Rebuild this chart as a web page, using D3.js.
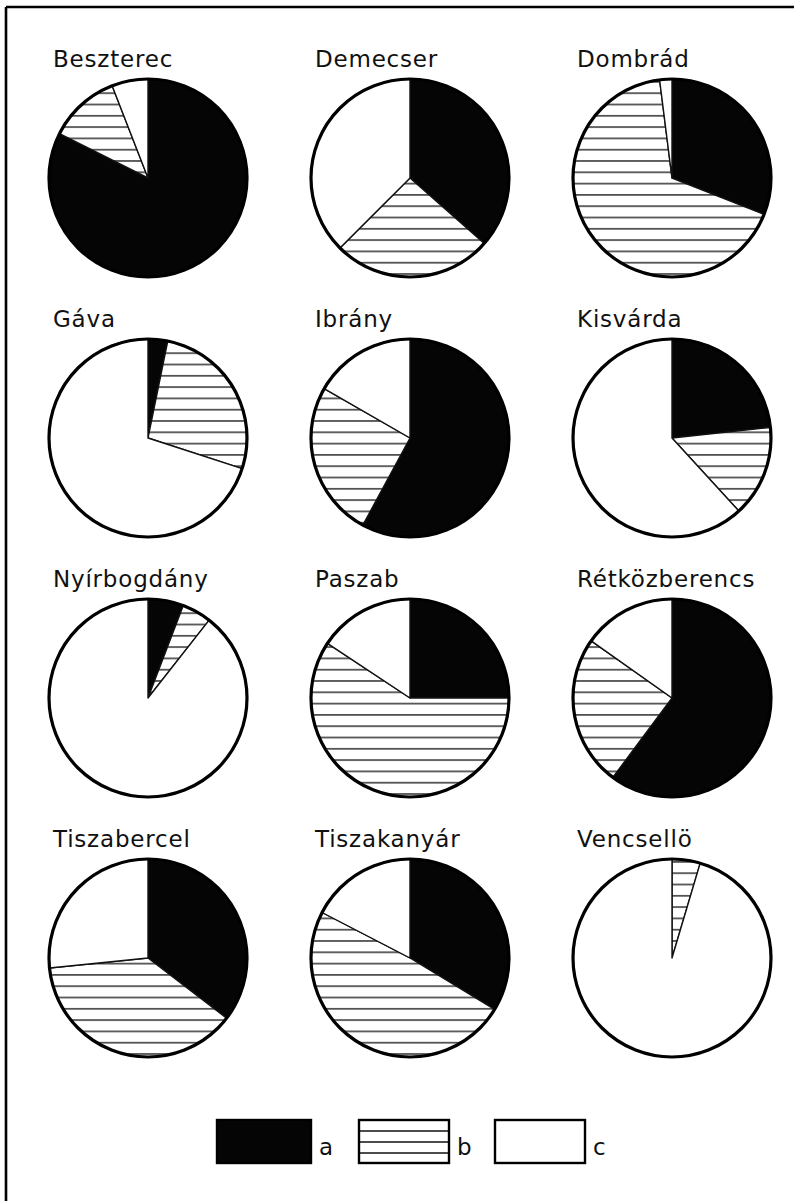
<!DOCTYPE html>
<html>
<head>
<meta charset="utf-8">
<script src="https://cdn.jsdelivr.net/npm/d3@7"></script>
<style>
  html, body { margin: 0; padding: 0; background: #fff; }
  svg { display: block; }
  text { font-family: "DejaVu Sans", sans-serif; fill: #111; }
</style>
</head>
<body>
<svg id="chart" width="794" height="1201"></svg>
<script>
// ---- data ----
const places = ["Beszterec", "Demecser", "Dombrád",
                "Gáva", "Ibrány", "Kisvárda",
                "Nyírbogdány", "Paszab", "Rétközberencs",
                "Tiszabercel", "Tiszakanyár", "Vencsellö"];
const seriesKeys = ["a", "b", "c"];
const valuesA = [82.4, 36.5, 31.0, 3.2, 57.9, 23.3, 5.8, 25.0, 60.2, 35.4, 33.7, 0.0];
const valuesB = [11.7, 26.0, 67.0, 26.8, 25.4, 14.9, 4.8, 59.3, 24.6, 38.0, 48.9, 4.6];
const valuesC = [5.9, 37.5, 2.0, 70.0, 16.7, 61.8, 89.4, 15.7, 15.2, 26.6, 17.4, 95.4];

// ---- layout ----
const svg = d3.select("#chart");
const W = 794, H = 1201;
const R = 99;
const colX = d3.scalePoint().domain([0, 1, 2]).range([148, 672]);
const rowY = d3.scaleLinear().domain([0, 3]).range([178, 958]);

const defs = svg.append("defs");
const pat = defs.append("pattern")
  .attr("id", "hatch")
  .attr("patternUnits", "userSpaceOnUse")
  .attr("width", 10).attr("height", 11.3);
pat.append("rect").attr("width", 10).attr("height", 11.3).attr("fill", "#fff");
pat.append("line").attr("x1", 0).attr("x2", 10).attr("y1", 5.6).attr("y2", 5.6)
  .attr("stroke", "#111").attr("stroke-width", 1.3);

const fills = d3.scaleOrdinal().domain(seriesKeys).range(["#050505", "url(#hatch)", "#fff"]);

// frame (top and left)
svg.append("line").attr("x1", 6).attr("x2", W).attr("y1", 7).attr("y2", 7)
  .attr("stroke", "#000").attr("stroke-width", 2.6);
svg.append("line").attr("x1", 6).attr("x2", 6).attr("y1", 7).attr("y2", H)
  .attr("stroke", "#000").attr("stroke-width", 2.6);

const pie = d3.pie().sort(null).value(d => d.v).startAngle(0).endAngle(2 * Math.PI);
const arc = d3.arc().innerRadius(0).outerRadius(R);

places.forEach((name, i) => {
  const col = i % 3, row = Math.floor(i / 3);
  const cx = colX(col), cy = rowY(row);
  const data = [
    { k: "a", v: valuesA[i] },
    { k: "b", v: valuesB[i] },
    { k: "c", v: valuesC[i] }
  ].filter(d => d.v > 0);
  const g = svg.append("g").attr("transform", `translate(${cx},${cy})`);
  g.selectAll("path.slice")
    .data(pie(data))
    .join("path")
    .attr("class", "slice")
    .attr("d", arc)
    .attr("fill", d => fills(d.data.k))
    .attr("stroke", "#111")
    .attr("stroke-width", 1.4)
    .attr("stroke-linejoin", "round");
  g.append("circle").attr("r", R).attr("fill", "none")
    .attr("stroke", "#000").attr("stroke-width", 3.2);
  svg.append("text")
    .attr("x", cx - R + 4)
    .attr("y", cy - R - 12)
    .attr("font-size", 23)
    .attr("letter-spacing", 0.8)
    .text(name);
});

// ---- legend ----
const legX = d3.scaleOrdinal().domain(seriesKeys).range([217, 359, 495]);
const legY = 1120, legW = 90, legH = 43;
const lg = svg.append("g");
seriesKeys.forEach(k => {
  const x = legX(k);
  const w = k === "a" ? 94 : legW;
  lg.append("rect").attr("x", x).attr("y", legY).attr("width", w).attr("height", legH)
    .attr("fill", k === "b" ? "#fff" : fills(k))
    .attr("stroke", "#000").attr("stroke-width", 2.4);
  if (k === "b") {
    [11, 22, 33].forEach(dy => {
      lg.append("line").attr("x1", x + 1).attr("x2", x + w - 1)
        .attr("y1", legY + dy).attr("y2", legY + dy)
        .attr("stroke", "#111").attr("stroke-width", 1.3);
    });
  }
  lg.append("text").attr("x", x + w + 8).attr("y", 1155)
    .attr("font-size", 23).text(k);
});
</script>
</body>
</html>
